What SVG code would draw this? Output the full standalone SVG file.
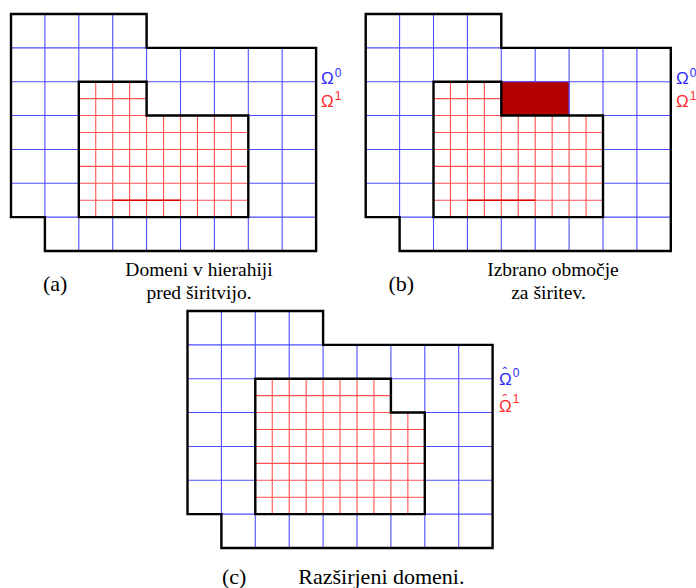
<svg xmlns="http://www.w3.org/2000/svg" width="696" height="588" viewBox="0 0 696 588">
<defs>
<style>
.bg{fill:#ffffff}
.blue{stroke:#4f4fff;stroke-width:1.1;fill:none}
.red{stroke:#ff5050;stroke-width:1.1;fill:none}
.redfill{fill:#ffffff;stroke:none}
.dark{stroke:#e00000;stroke-width:1.6;fill:none}
.border{stroke:#000000;stroke-width:2.4;fill:none;stroke-linejoin:miter}
.om{font-family:"Liberation Sans",Arial,sans-serif;font-size:17px}
.hat{font-family:"Liberation Sans",Arial,sans-serif;font-size:14px}
.sup{font-family:"Liberation Sans",Arial,sans-serif;font-size:12px}
.cap{font-family:"Liberation Serif","Times New Roman",serif;font-size:19.5px;fill:#000}
.lab{font-family:"Liberation Serif","Times New Roman",serif;font-size:22px;fill:#000}
.capc{font-family:"Liberation Serif","Times New Roman",serif;font-size:22px;fill:#000}
.b0{fill:#2a2aff}
.r1{fill:#ff2a2a}
</style>
<path id="outer" d="M0,0 H135.6 V33.86 H305.1 V237 H33.9 V203.14 H0 Z"/>
<path id="bgrid" d="M33.9,0 V237 M67.8,0 V237 M101.7,0 V237 M135.6,0 V237 M169.5,33.86 V237 M203.4,33.86 V237 M237.3,33.86 V237 M271.2,33.86 V237 M0,33.86 H305.1 M0,67.71 H305.1 M0,101.57 H305.1 M0,135.43 H305.1 M0,169.29 H305.1 M0,203.14 H305.1"/>
<path id="regA" d="M67.8,67.71 H135.6 V101.57 H237.3 V203.14 H67.8 Z"/>
<path id="rgridA" d="M84.75,67.71 V203.14 M101.7,67.71 V203.14 M118.65,67.71 V203.14 M135.6,101.57 V203.14 M152.55,101.57 V203.14 M169.5,101.57 V203.14 M186.45,101.57 V203.14 M203.4,101.57 V203.14 M220.35,101.57 V203.14 M67.8,84.64 H135.6 M67.8,101.57 H237.3 M67.8,118.5 H237.3 M67.8,135.43 H237.3 M67.8,152.36 H237.3 M67.8,169.29 H237.3 M67.8,186.21 H237.3"/>
<path id="regC" d="M67.8,67.71 H203.4 V101.57 H237.3 V203.14 H67.8 Z"/>
<path id="rgridC" d="M84.75,67.71 V203.14 M101.7,67.71 V203.14 M118.65,67.71 V203.14 M135.6,67.71 V203.14 M152.55,67.71 V203.14 M169.5,67.71 V203.14 M186.45,67.71 V203.14 M203.4,101.57 V203.14 M220.35,101.57 V203.14 M67.8,84.64 H203.4 M67.8,101.57 H237.3 M67.8,118.5 H237.3 M67.8,135.43 H237.3 M67.8,152.36 H237.3 M67.8,169.29 H237.3 M67.8,186.21 H237.3"/>
</defs>
<rect class="bg" x="0" y="0" width="696" height="588"/>

<g id="panel-a" transform="translate(11,14)">
  <use href="#bgrid" class="blue"/>
  <use href="#regA" class="redfill"/>
  <use href="#rgridA" class="red"/>
  <path class="dark" d="M101.7,186.21 H169.5"/>
  <use href="#regA" class="border"/>
  <use href="#outer" class="border"/>
</g>
<g id="label-a">
  <text class="om b0" x="321" y="83.5">Ω<tspan class="sup" dx="1" dy="-7">0</tspan></text>
  <text class="om r1" x="321" y="106.5">Ω<tspan class="sup" dx="1" dy="-7">1</tspan></text>
  <text class="lab" x="43" y="291">(a)</text>
  <text class="cap" x="199" y="276.3" text-anchor="middle">Domeni v hierahiji</text>
  <text class="cap" x="199" y="298.5" text-anchor="middle">pred širitvijo.</text>
</g>

<g id="panel-b" transform="translate(365.7,14)">
  <use href="#bgrid" class="blue"/>
  <use href="#regA" class="redfill"/>
  <use href="#rgridA" class="red"/>
  <path class="dark" d="M101.7,186.21 H169.5"/>
  <rect x="135.6" y="67.71" width="67.8" height="33.86" fill="#b50000"/>
  <path class="blue" d="M135.6,67.71 H203.4 V101.57"/>
  <use href="#regA" class="border"/>
  <use href="#outer" class="border"/>
</g>
<g id="label-b">
  <text class="om b0" x="676" y="83.5">Ω<tspan class="sup" dx="1" dy="-7">0</tspan></text>
  <text class="om r1" x="676" y="106.5">Ω<tspan class="sup" dx="1" dy="-7">1</tspan></text>
  <text class="lab" x="388.5" y="291">(b)</text>
  <text class="cap" x="553" y="276.3" text-anchor="middle">Izbrano območje</text>
  <text class="cap" x="548.5" y="298.5" text-anchor="middle">za širitev.</text>
</g>

<g id="panel-c" transform="translate(187.5,311)">
  <use href="#bgrid" class="blue"/>
  <use href="#regC" class="redfill"/>
  <use href="#rgridC" class="red"/>
  <use href="#regC" class="border"/>
  <use href="#outer" class="border"/>
</g>
<g id="label-c">
  <text class="om b0"><tspan class="hat" x="502.5" y="378">ˆ</tspan><tspan x="499" y="384.5">Ω</tspan><tspan class="sup" dx="1" dy="-8">0</tspan></text>
  <text class="om r1"><tspan class="hat" x="502.5" y="405">ˆ</tspan><tspan x="499" y="411.7">Ω</tspan><tspan class="sup" dx="1" dy="-9">1</tspan></text>
  <text class="lab" x="222" y="583.5">(c)</text>
  <text class="capc" x="298.3" y="583.5">Razširjeni domeni.</text>
</g>
</svg>
